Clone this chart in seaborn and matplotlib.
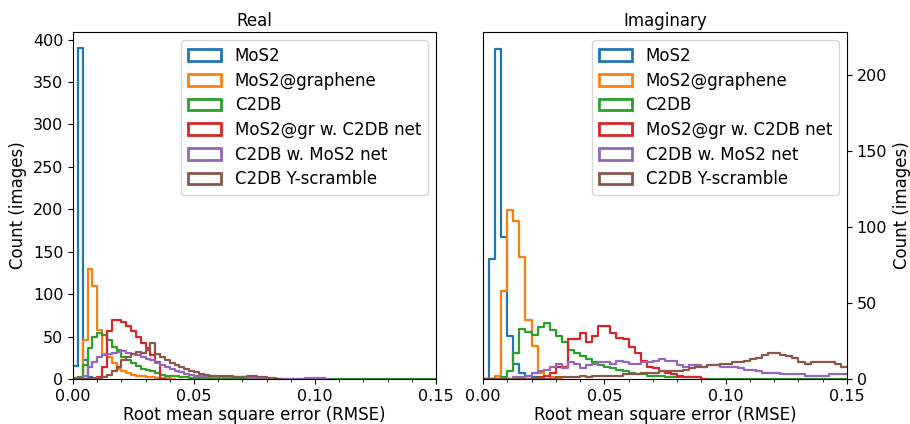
import numpy as np
import pandas as pd
import matplotlib
matplotlib.use("Agg")
import matplotlib.pyplot as plt
import seaborn as sns
from matplotlib.patches import Patch
from matplotlib.ticker import MultipleLocator, FormatStrFormatter

# -----------------------------------------------------
# Data: histogram counts per bin, bins start at 0
# -----------------------------------------------------

labels = [
    "MoS2",
    "MoS2@graphene",
    "C2DB",
    "MoS2@gr w. C2DB net",
    "C2DB w. MoS2 net",
    "C2DB Y-scramble",
]
colors = ["#1f77b4", "#ff7f0e", "#2ca02c", "#d62728", "#9467bd", "#8c564b"]

# Real part, bin width 0.002
real_bin_width = 0.002
real_mos2 = [15, 390, 22, 2, 1, 0]
real_mos2_gr = [0, 0, 46, 130, 110, 58, 30, 26, 19, 12, 9, 7, 5, 4, 3, 2, 2, 1, 1, 1, 0]
real_c2db = ([1, 2, 16, 36, 50, 54, 52, 46, 38, 34, 26, 22, 19, 15, 12, 11, 9, 7, 5,
              4, 3, 3, 2, 2, 1, 1, 1, 1, 1, 1, 1, 1] + [0] * 43)
real_gr_c2db_net = [0, 0, 0, 0, 0, 2, 14, 56, 70, 70, 67, 62, 56, 49, 42, 36, 28, 20, 0]
real_c2db_mos2_net = [0, 0, 3, 14, 20, 26, 28, 30, 31, 32, 33, 31, 29, 28, 26, 24, 22,
                      19, 16, 14, 12, 10, 8, 6, 5, 4, 4, 3, 3, 2, 2, 2, 2, 2, 2, 2, 1,
                      1, 1, 1, 1, 0, 0, 0, 0, 0, 0, 0, 1, 1, 1, 1, 0]
real_c2db_scramble = [0, 0, 0, 0, 0, 1, 2, 5, 10, 14, 22, 26, 30, 32, 31, 34, 42, 30,
                      26, 22, 19, 16, 14, 12, 10, 8, 6, 5, 4, 4, 3, 3, 3, 2, 2, 2, 3,
                      3, 2, 2, 1, 1, 0]

# Imaginary part, bin width 0.0025
imag_bin_width = 0.0025
imag_mos2 = [0, 79, 217, 93, 28, 10, 4, 2, 1, 0]
imag_mos2_gr = [0, 0, 2, 58, 111, 104, 80, 39, 22, 4, 2, 1, 0]
imag_c2db = ([0, 0, 0, 1, 5, 17, 33, 31, 29, 34, 37, 32, 28, 24, 19, 17, 15, 13, 11,
              9, 8, 7, 6, 5, 4, 3, 3, 2, 2, 2, 1, 1, 1, 1, 1, 1] + [0] * 24)
imag_gr_c2db_net = ([0] * 9 + [1, 2, 4, 8, 8, 26, 26, 30, 24, 28, 35, 35, 30, 27, 26,
                               21, 17, 12, 8, 7, 5, 4, 3, 2, 1, 1, 1, 0])
imag_c2db_mos2_net = [0, 0, 0, 0, 0, 1, 1, 2, 4, 5, 6, 8, 10, 7, 11, 10, 7, 9, 10, 11,
                      11, 10, 12, 11, 10, 10, 11, 11, 12, 13, 12, 12, 9, 8, 9, 9, 8,
                      9, 9, 8, 8, 8, 7, 6, 6, 5, 4, 4, 4, 3, 3, 3, 3, 2, 2, 2, 2, 3,
                      3, 3]
imag_c2db_scramble = [0] * 12 + [1, 1, 1, 1, 2, 1, 2, 2, 2, 2, 2, 3, 3, 3, 4, 4, 4, 5,
                                 5, 5, 5, 6, 7, 8, 8, 9, 9, 10, 10, 11, 11, 12, 13,
                                 14, 16, 17, 17, 16, 15, 14, 11, 10, 11, 11, 11, 11,
                                 10, 8]

real_series = [real_mos2, real_mos2_gr, real_c2db, real_gr_c2db_net,
               real_c2db_mos2_net, real_c2db_scramble]
imag_series = [imag_mos2, imag_mos2_gr, imag_c2db, imag_gr_c2db_net,
               imag_c2db_mos2_net, imag_c2db_scramble]


def draw_panel(ax, series, width):
    for name, counts, color in zip(labels, series, colors):
        n = len(counts)
        centers = (np.arange(n) + 0.5) * width
        df = pd.DataFrame({"rmse": centers, "count": np.asarray(counts, dtype=float)})
        sns.histplot(
            data=df,
            x="rmse",
            weights="count",
            binwidth=width,
            binrange=(0, n * width - width * 1e-6),
            element="step",
            fill=False,
            color=color,
            linewidth=1.6,
            ax=ax,
        )

    handles = [Patch(facecolor="none", edgecolor=c, linewidth=2, label=l)
               for l, c in zip(labels, colors)]
    ax.legend(handles=handles, loc="upper right", fontsize=12, labelspacing=0.4)

    ax.set_xlim(0, 0.15)
    ax.xaxis.set_major_locator(MultipleLocator(0.05))
    ax.xaxis.set_minor_locator(MultipleLocator(0.01))
    ax.xaxis.set_major_formatter(FormatStrFormatter("%.2f"))
    ax.yaxis.set_major_locator(MultipleLocator(50))
    ax.set_xlabel("Root mean square error (RMSE)", fontsize=12, labelpad=2)
    ax.set_ylabel("Count (images)", fontsize=12)
    ax.tick_params(labelsize=11.5)


sns.set_style("ticks", {
    "axes.edgecolor": "black",
    "axes.labelcolor": "black",
    "text.color": "black",
    "xtick.color": "black",
    "ytick.color": "black",
})
plt.rcParams["font.family"] = ["DejaVu Sans"]

fig, (ax_real, ax_imag) = plt.subplots(1, 2, figsize=(9.1, 4.24), dpi=100)

# =====================================================
# Real
# =====================================================

draw_panel(ax_real, real_series, real_bin_width)
ax_real.set_ylim(0, 409)
ax_real.set_title("Real", fontsize=12, pad=4)

# =====================================================
# Imaginary
# =====================================================

draw_panel(ax_imag, imag_series, imag_bin_width)
ax_imag.set_ylim(0, 228)
ax_imag.set_title("Imaginary", fontsize=12, pad=4)
ax_imag.yaxis.tick_right()
ax_imag.yaxis.set_label_position("right")

ax_real.set_position([73 / 910, 45 / 424, 363 / 910, 347 / 424])
ax_imag.set_position([483 / 910, 45 / 424, 364 / 910, 347 / 424])

fig.savefig("out.png", dpi=100)
plt.close(fig)
